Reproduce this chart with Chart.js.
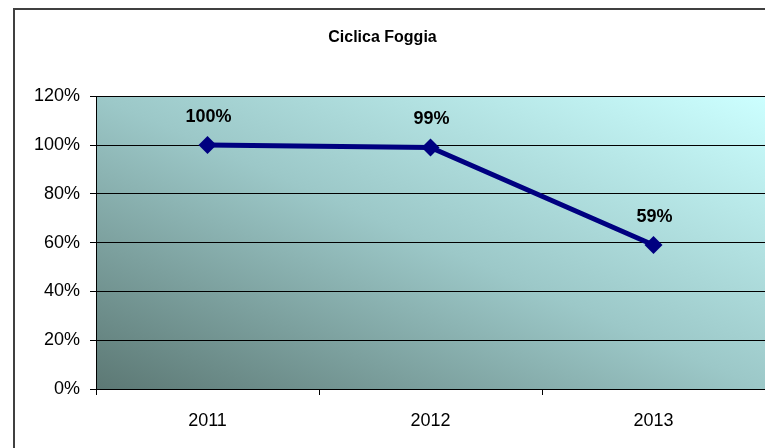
<!DOCTYPE html>
<html>
<head>
<meta charset="utf-8">
<script src="https://cdn.jsdelivr.net/npm/chart.js@4.4.1/dist/chart.umd.min.js"></script>
<style>
  html, body { margin: 0; padding: 0; background: #fff; overflow: hidden; }
  #wrap { width: 765px; height: 448px; position: relative; }
</style>
</head>
<body>
<div id="wrap"><canvas id="chart" width="765" height="448"></canvas></div>
<script>
const titleText = 'Ciclica Foggia';
const years = ['2011', '2012', '2013'];
const shares = [1.00, 0.99, 0.59];
const yTicks = [0, 0.2, 0.4, 0.6, 0.8, 1.0, 1.2];

const pct = v => Math.round(v * 100) + '%';

// diagonal fill of the plot area, dark bottom-left to pale cyan top-right
const plotBackground = {
  id: 'plotBackground',
  beforeDraw(chart) {
    const { ctx, chartArea: a } = chart;
    const w = a.right - a.left, h = a.bottom - a.top;
    const cx = (a.left + a.right) / 2, cy = (a.top + a.bottom) / 2;
    const k = (w * h) / (w * w + h * h);
    const g = ctx.createLinearGradient(cx - k * h, cy + k * w, cx + k * h, cy - k * w);
    g.addColorStop(0, '#5c7874');
    g.addColorStop(0.5, '#9cc8c8');
    g.addColorStop(1, '#ccffff');
    ctx.save();
    ctx.fillStyle = g;
    ctx.fillRect(a.left, a.top, w, h);
    ctx.restore();
  },
  afterDraw(chart) {
    // frame around the whole chart (runs off to the right and bottom)
    const { ctx } = chart;
    ctx.save();
    ctx.strokeStyle = '#404040';
    ctx.lineWidth = 2;
    ctx.beginPath();
    ctx.moveTo(14, 460);
    ctx.lineTo(14, 9);
    ctx.lineTo(780, 9);
    ctx.stroke();
    ctx.restore();
  }
};

// percentage labels above each point
const pointLabels = {
  id: 'pointLabels',
  afterDatasetsDraw(chart) {
    const { ctx } = chart;
    const meta = chart.getDatasetMeta(0);
    ctx.save();
    ctx.font = 'bold 18px "Liberation Sans", Arial, sans-serif';
    ctx.fillStyle = '#000';
    ctx.textAlign = 'center';
    ctx.textBaseline = 'middle';
    meta.data.forEach((pt, i) => {
      ctx.fillText(pct(shares[i]), pt.x + 1, pt.y - 28);
    });
    ctx.restore();
  }
};

Chart.defaults.font.family = '"Liberation Sans", Arial, sans-serif';
Chart.defaults.color = '#000';

new Chart(document.getElementById('chart'), {
  type: 'line',
  data: {
    labels: years,
    datasets: [{
      data: shares,
      borderColor: '#000080',
      backgroundColor: '#000080',
      borderWidth: 5,
      pointStyle: 'rectRot',
      pointRadius: 9,
      pointHoverRadius: 9,
      pointBorderWidth: 0,
      tension: 0
    }]
  },
  options: {
    responsive: false,
    animation: false,
    events: [],
    // no extra room for markers, the plot runs to the canvas edge
    layout: { autoPadding: false, padding: { left: 0, right: 0, top: 0, bottom: 0 } },
    plugins: {
      legend: { display: false },
      tooltip: { enabled: false },
      title: {
        display: true,
        text: titleText,
        font: { size: 16, weight: 'bold' },
        padding: { top: 28, bottom: 49 }
      }
    },
    scales: {
      x: {
        offset: true,
        grid: {
          offset: true,
          drawOnChartArea: false,
          drawTicks: true,
          tickLength: 6,
          color: '#000'
        },
        border: { display: true, color: '#000', width: 1 },
        ticks: { font: { size: 18 }, padding: 15 },
        afterFit(scale) { scale.height = 59; }
      },
      y: {
        min: 0,
        max: 1.2,
        afterBuildTicks(scale) { scale.ticks = yTicks.map(v => ({ value: v })); },
        grid: { color: '#000', tickLength: 6, lineWidth: 1 },
        border: { display: true, color: '#000', width: 1 },
        ticks: { font: { size: 18 }, padding: 10, callback: v => pct(v) },
        afterFit(scale) { scale.width = 96; }
      }
    }
  },
  plugins: [plotBackground, pointLabels]
});
</script>
</body>
</html>
